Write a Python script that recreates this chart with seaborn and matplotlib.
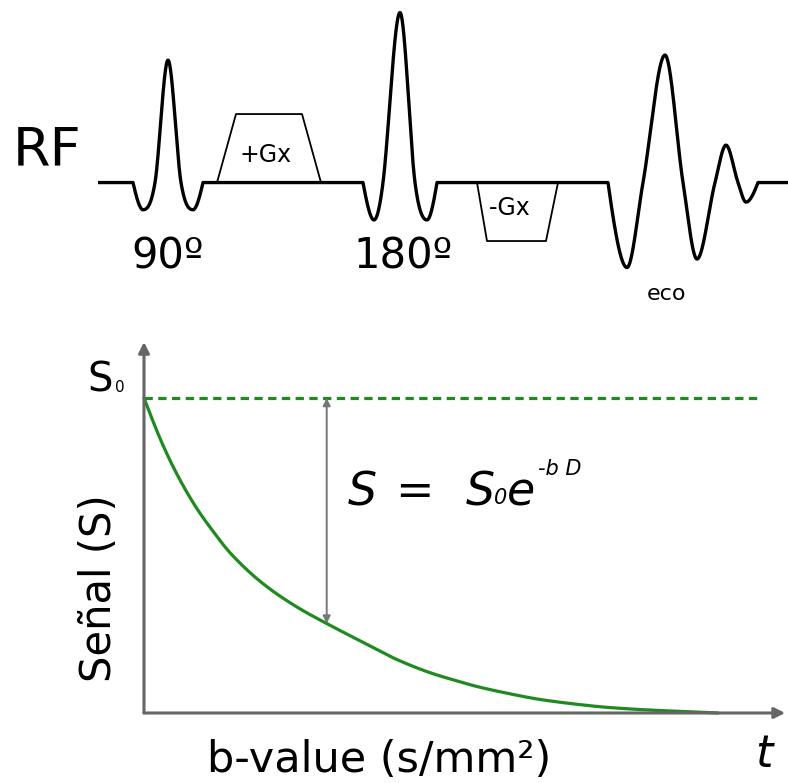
import numpy as np
import pandas as pd
import matplotlib
matplotlib.use("Agg")
import matplotlib.pyplot as plt
import seaborn as sns

sns.set_theme(style="white")
plt.rcParams["font.family"] = ["DejaVu Sans"]
plt.rcParams["text.color"] = "black"

# ---------------- pulse sequence (time units, amplitude relative to 180° peak)
# key points of the RF trace: extrema and zero crossings
rf_t = [0.0, 3.5, 4.5, 5.7, 7.0, 8.3, 9.5, 10.5,
        26.5, 27.6, 28.5, 30.2, 31.7, 32.9, 33.9,
        51.0, 52.9, 54.5, 56.7, 58.5, 59.9, 61.7, 62.8, 64.0, 64.8, 66.0,
        69.0]
rf_a = [0.0, 0.0, -0.16, 0.0, 0.72, 0.0, -0.16, 0.0,
        0.0, -0.22, 0.0, 1.00, 0.0, -0.22, 0.0,
        0.0, -0.50, 0.0, 0.75, 0.0, -0.45, 0.0, 0.22, 0.0, -0.115, 0.0,
        0.0]

# diffusion gradient lobes (trapezoids)
gpos_t = [11.9, 13.8, 20.4, 22.3]
gpos_a = [0.0, 0.403, 0.403, 0.0]
gneg_t = [37.9, 38.9, 44.8, 46.0]
gneg_a = [0.0, -0.344, -0.344, 0.0]

# ---------------- signal decay vs b-value (S / S0)
b_vals = [0.0, 0.336, 0.627, 0.918, 1.207, 1.498, 2.078, 2.660, 3.183, 3.821,
          4.403, 4.983, 5.505, 5.737, 6.319, 6.899, 7.479, 8.061, 8.641, 9.221,
          10.0]
signal = [1.0, 0.848, 0.740, 0.650, 0.576, 0.509, 0.410, 0.337, 0.284, 0.224,
          0.170, 0.128, 0.099, 0.087, 0.063, 0.043, 0.029, 0.018, 0.011, 0.006,
          0.0]
s0_level = 1.0
arrow_idx = 8  # b value where the S0 -> S gap is marked

GREEN = "#1f8a1f"
AXGRAY = "#666666"


def hermite(x, y, m, n=40):
    """Sample a cubic Hermite line through (x, y) with tangents m."""
    xs, ys = [x[0]], [y[0]]
    s = np.linspace(0, 1, n)[1:]
    h00 = 2 * s**3 - 3 * s**2 + 1
    h10 = s**3 - 2 * s**2 + s
    h01 = -2 * s**3 + 3 * s**2
    h11 = s**3 - s**2
    for i in range(len(x) - 1):
        dx = x[i + 1] - x[i]
        xs.extend(x[i] + dx * s)
        ys.extend(h00 * y[i] + h10 * dx * m[i] + h01 * y[i + 1] + h11 * dx * m[i + 1])
    return np.array(xs), np.array(ys)


def smooth_line(x, y, n=40):
    """Monotone (Fritsch-Carlson) smooth line through the points."""
    x = np.asarray(x, float)
    y = np.asarray(y, float)
    d = np.diff(y) / np.diff(x)
    m = np.zeros_like(y)
    for i in range(1, len(y) - 1):
        if d[i - 1] * d[i] > 0:
            w1 = 2 * (x[i + 1] - x[i]) + (x[i] - x[i - 1])
            w2 = (x[i + 1] - x[i]) + 2 * (x[i] - x[i - 1])
            m[i] = (w1 + w2) / (w1 / d[i - 1] + w2 / d[i])
    m[0] = 1.5 * d[0] - 0.5 * m[1]
    m[-1] = 1.5 * d[-1] - 0.5 * m[-2]
    return hermite(x, y, m, n)


def rf_trace(t, a, n=60):
    """RF trace: flat at extrema, steep through zero crossings."""
    t = np.asarray(t, float)
    a = np.asarray(a, float)
    m = np.zeros_like(a)
    for i in range(1, len(a) - 1):
        if a[i] != 0:
            continue
        prev_nz, next_nz = a[i - 1] != 0, a[i + 1] != 0
        if prev_nz and next_nz:
            m[i] = (a[i + 1] - a[i - 1]) / (t[i + 1] - t[i - 1])
        elif next_nz:
            m[i] = 1.6 * a[i + 1] / (t[i + 1] - t[i])
        elif prev_nz:
            m[i] = -1.6 * a[i - 1] / (t[i] - t[i - 1])
    xs, ys = [t[0]], [a[0]]
    for i in range(len(a) - 1):
        if a[i] == 0 and a[i + 1] == 0:
            xs.append(t[i + 1])
            ys.append(0.0)
            continue
        # a pulse edge meets the flat baseline at a corner
        sx, sy = hermite(t[i:i + 2], a[i:i + 2], m[i:i + 2], n)
        xs.extend(sx[1:])
        ys.extend(sy[1:])
    return pd.DataFrame({"t": xs, "a": ys})


fig = plt.figure(figsize=(7.88, 7.83), dpi=100)

# ---------------- top panel: RF / gradient diagram
ax1 = fig.add_axes([98 / 788, 1 - 300 / 783, 690 / 788, 300 / 783])
ax1.set_xlim(0, 69)
ax1.set_ylim(-0.691, 1.074)
ax1.axis("off")

trace = rf_trace(rf_t, rf_a)
sns.lineplot(data=trace, x="t", y="a", sort=False, estimator=None,
             color="black", lw=2.4, ax=ax1)
ax1.lines[-1].set_solid_joinstyle("round")
sns.lineplot(x=gpos_t, y=gpos_a, sort=False, estimator=None,
             color="black", lw=1.3, ax=ax1)
sns.lineplot(x=gneg_t, y=gneg_a, sort=False, estimator=None,
             color="black", lw=1.3, ax=ax1)

ax1.text(-5.1, 0.103, "RF", fontsize=39, ha="center", va="baseline")
ax1.text(7.0, -0.503, "90º", fontsize=30, ha="center", va="baseline")
ax1.text(30.5, -0.503, "180º", fontsize=30, ha="center", va="baseline")
ax1.text(16.75, 0.12, "+Gx", fontsize=17, ha="center", va="baseline")
ax1.text(41.2, -0.191, "-Gx", fontsize=17, ha="center", va="baseline")
ax1.text(56.9, -0.691, "eco", fontsize=16, ha="center", va="baseline")

# ---------------- bottom panel: signal decay
ax2 = fig.add_axes([120 / 788, 53 / 783, 668 / 788, 400 / 783])
ax2.set_xlim(-0.418, 11.22)
ax2.set_ylim(-0.054, 1.216)
ax2.axis("off")

# axes drawn as arrows
ax2.annotate("", xy=(11.17, 0), xytext=(0, 0),
             arrowprops=dict(arrowstyle="-|>", color=AXGRAY, lw=2.2,
                             mutation_scale=16, shrinkA=0, shrinkB=0))
ax2.annotate("", xy=(0, 1.178), xytext=(0, 0),
             arrowprops=dict(arrowstyle="-|>", color=AXGRAY, lw=2.2,
                             mutation_scale=16, shrinkA=0, shrinkB=0))

# S0 reference level
sns.lineplot(x=[0.0, 10.73], y=[s0_level, s0_level], color=GREEN, lw=2.3,
             ax=ax2)
ax2.lines[-1].set_dashes((2.6, 1.7))

cx, cy = smooth_line(b_vals, signal)
sns.lineplot(x=cx, y=cy, sort=False, estimator=None, color=GREEN, lw=2.3,
             ax=ax2)

ax2.annotate("", xy=(b_vals[arrow_idx], s0_level),
             xytext=(b_vals[arrow_idx], signal[arrow_idx]),
             arrowprops=dict(arrowstyle="<|-|>", color="#777777", lw=1.4,
                             mutation_scale=11, shrinkA=0, shrinkB=0))

# labels
ax2.text(-0.77, 1.02, "S", fontsize=29, ha="center", va="baseline")
ax2.text(-0.42, 1.02, "0", fontsize=11, ha="center", va="baseline")
ax2.text(-0.78, 0.397, "Señal (S)", fontsize=30, rotation=90,
         ha="center", va="center")
ax2.text(4.09, -0.186, "b-value (s/mm²)", fontsize=31, ha="center",
         va="baseline")
ax2.text(10.8, -0.171, "t", fontsize=32, style="italic", ha="center",
         va="baseline")

# formula S = S0 e^(-b D)
ax2.text(3.554, 0.660, "S", fontsize=33, style="italic", ha="left",
         va="baseline")
ax2.text(4.373, 0.660, "=", fontsize=33, ha="left", va="baseline")
ax2.text(5.610, 0.660, "S", fontsize=33, style="italic", ha="left",
         va="baseline")
ax2.text(6.10, 0.663, "0", fontsize=15, style="italic", ha="left",
         va="baseline")
ax2.text(6.32, 0.660, "e", fontsize=33, style="italic", ha="left",
         va="baseline")
ax2.text(6.86, 0.756, "-b D", fontsize=15, style="italic", ha="left",
         va="baseline")

fig.savefig("out.png", dpi=100, facecolor="white")
